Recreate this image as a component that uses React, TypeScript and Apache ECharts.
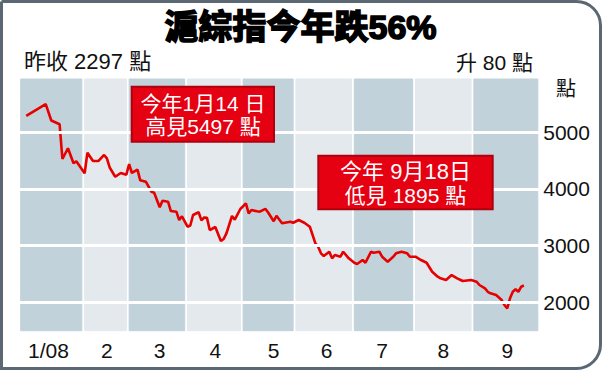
import React, { useEffect, useRef } from "react";
import * as echarts from "echarts";

// Trading days per month column (Jan–Sep 2008)
const monthDays = [23, 16, 21, 20, 19, 21, 22, 21, 24];
const monthLabels = ["1/08", "2", "3", "4", "5", "6", "7", "8", "9"];
const monthLabelDay = [10, 31, 50, 70, 91, 110, 130, 152, 175];
const monthColors = ["#c1d2da", "#e3e9ed"];

// Shanghai Composite closes (day index -> close)
const pointDay = [
  2, 9, 11, 14, 15, 17, 19, 20, 23, 24, 26, 28, 30, 31, 32, 34, 36, 38, 39, 40,
  42, 43, 45, 47, 48, 50, 51, 53, 54, 56, 57, 58, 60, 61, 62, 64, 65, 66, 67, 68,
  70, 72, 73, 74, 76, 77, 79, 81, 82, 83, 85, 86, 88, 89, 91, 92, 94, 97, 98, 100,
  102, 104, 106, 107, 108, 109, 111, 112, 113, 115, 116, 118, 120, 121, 123, 124,
  126, 127, 129, 130, 132, 134, 135, 137, 139, 140, 142, 144, 146, 148, 150, 151,
  153, 155, 157, 159, 162, 164, 165, 167, 168, 169, 171, 173, 174, 175, 176, 177,
  178, 179, 180, 181,
];
const pointClose = [
  5288, 5497, 5208, 5141, 4529, 4718, 4453, 4488, 4277, 4640, 4494, 4494, 4600,
  4541, 4379, 4216, 4282, 4252, 4437, 4282, 4340, 4153, 4128, 3952, 3934, 3678,
  3793, 3775, 3611, 3599, 3452, 3518, 3334, 3355, 3541, 3590, 3447, 3497, 3490,
  3276, 3329, 3082, 3117, 3218, 3523, 3458, 3647, 3747, 3571, 3629, 3606, 3599,
  3650, 3585, 3431, 3527, 3394, 3422, 3405, 3452, 3405, 3334, 3041, 2981, 2865,
  2817, 2893, 2777, 2835, 2805, 2893, 2777, 2699, 2676, 2747, 2699, 2893, 2875,
  2893, 2805, 2717, 2805, 2865, 2893, 2865, 2805, 2805, 2747, 2699, 2540, 2452,
  2424, 2394, 2482, 2424, 2376, 2394, 2364, 2306, 2247, 2187, 2159, 2129, 2041,
  1953, 1895, 2071, 2187, 2230, 2187, 2275, 2297,
];
const yGridValues = [2000, 3000, 4000, 5000];

const FONT = '"Liberation Sans", Arial, "Noto Sans CJK TC", sans-serif';

export default function App() {
  const ref = useRef<HTMLDivElement>(null);

  useEffect(() => {
    if (!ref.current) return;
    const chart = echarts.init(ref.current, null, { renderer: "svg" });

    const days: string[] = [];
    const monthRanges: [number, number][] = [];
    monthDays.forEach((n, m) => {
      const start = days.length;
      for (let d = 0; d < n; d++) days.push(`${m + 1}-${d + 1}`);
      monthRanges.push([start, days.length - 1]);
    });
    const lineData: (number | null)[] = days.map(() => null);
    pointDay.forEach((d, k) => {
      lineData[d] = pointClose[k];
    });

    const areaData = monthRanges.map(([s, e], i) => {
      const c = monthColors[i % 2];
      return [
        { xAxis: days[s], itemStyle: { color: c, borderColor: c, borderWidth: 1 } },
        { xAxis: days[e] },
      ];
    });

    const textStyle = (text: string, x: number, y: number, size: number, color = "#111", align = "left", weight = "normal") => ({
      text,
      x,
      y,
      fill: color,
      font: `${weight} ${size}px ${FONT}`,
      align,
      verticalAlign: "middle",
      textAlign: align,
      textVerticalAlign: "middle",
    });

    chart.setOption({
      animation: false,
      backgroundColor: "#ffffff",
      grid: { left: 19.31, right: 64.8, top: 79, bottom: 39.3 },
      xAxis: {
        type: "category",
        data: days,
        boundaryGap: true,
        axisLine: { show: false },
        axisTick: { show: false },
        splitLine: { show: false },
        axisLabel: {
          interval: (idx: number) => monthLabelDay.includes(idx),
          formatter: (_v: string, idx: number) => {
            const k = monthLabelDay.indexOf(idx);
            return k >= 0 ? monthLabels[k] : "";
          },
          fontSize: 21,
          fontFamily: FONT,
          color: "#111",
          margin: 9,
        },
      },
      yAxis: {
        type: "value",
        position: "right",
        min: 1500,
        max: 5940,
        interval: 500,
        axisLine: { show: false },
        axisTick: { show: false },
        splitLine: { show: false },
        axisLabel: {
          formatter: (v: number) => (yGridValues.includes(v) ? String(v) : ""),
          fontSize: 21,
          fontFamily: FONT,
          color: "#111",
          margin: 4,
        },
      },
      series: [
        {
          type: "line",
          z: 1,
          data: lineData,
          connectNulls: true,
          showSymbol: false,
          silent: true,
          lineStyle: { opacity: 0 },
          markArea: { silent: true, data: areaData },
        },
        {
          type: "line",
          z: 2,
          data: lineData,
          connectNulls: true,
          showSymbol: false,
          silent: true,
          lineStyle: { opacity: 0 },
          markLine: {
            silent: true,
            symbol: ["none", "none"],
            label: { show: false },
            lineStyle: { color: "#ffffff", width: 3, type: "solid" },
            data: yGridValues.map((v) => ({ yAxis: v })),
          },
        },
        {
          type: "line",
          z: 3,
          data: lineData,
          connectNulls: true,
          showSymbol: false,
          lineStyle: { color: "#e60000", width: 2.6 },
        },
      ],
      graphic: [
        {
          type: "rect",
          z: 100,
          shape: { x: 1.5, y: 1.5, width: 599, height: 367, r: [0, 24, 24, 0] },
          style: { fill: "none", stroke: "#5b6873", lineWidth: 3 },
        },
        {
          type: "text",
          z: 100,
          style: {
            ...textStyle("滬綜指今年跌56%", 300.5, 27, 34, "#000", "center", "bold"),
            stroke: "#000",
            lineWidth: 1.6,
          },
        },
        { type: "text", z: 100, style: textStyle("昨收 2297 點", 24, 61, 22) },
        { type: "text", z: 100, style: textStyle("升 80 點", 533, 62, 21, "#111", "right") },
        { type: "text", z: 100, style: textStyle("點", 566, 89, 20, "#111", "center") },
        {
          type: "rect",
          z: 100,
          shape: { x: 131.7, y: 86.7, width: 142.3, height: 55 },
          style: { fill: "#e50012", stroke: "#b0000e", lineWidth: 2 },
        },
        { type: "text", z: 101, style: textStyle("今年1月14 日", 203, 103.5, 21, "#fff", "center") },
        { type: "text", z: 101, style: textStyle("高見5497 點", 203, 126.5, 21, "#fff", "center") },
        {
          type: "rect",
          z: 100,
          shape: { x: 318.3, y: 155.7, width: 174.4, height: 53.6 },
          style: { fill: "#e50012", stroke: "#b0000e", lineWidth: 2 },
        },
        { type: "text", z: 101, style: textStyle("今年 9月18日", 405.5, 171.5, 22, "#fff", "center") },
        { type: "text", z: 101, style: textStyle("低見 1895 點", 405.5, 195, 21, "#fff", "center") },
      ],
    });

    return () => chart.dispose();
  }, []);

  return (
    <div
      ref={ref}
      style={{ position: "fixed", left: 0, top: 0, width: 604, height: 370 }}
    />
  );
}
